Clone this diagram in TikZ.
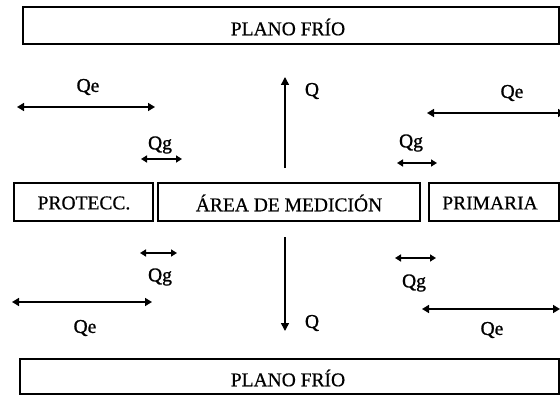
\documentclass[tikz,border=0pt]{standalone}
\usepackage{fontspec}
\setmainfont{Liberation Serif}
\newfontfamily\lblfont[FakeBold=0.6]{Liberation Serif}
\newfontfamily\qfont[FakeBold=1.2]{Liberation Serif}
\usetikzlibrary{arrows.meta}
\begin{document}
\begin{tikzpicture}[x=1pt,y=-1pt,
  box/.style={draw,line width=1.7pt,inner sep=0pt},
  lbl/.style={font=\lblfont\fontsize{19.5}{19.5}\selectfont,inner sep=0pt},
  qlbl/.style={font=\qfont\fontsize{19.5}{19.5}\selectfont,inner sep=0pt},
  harrow/.style={line width=1.6pt,{Triangle[length=7pt,width=8pt]}-{Triangle[length=7pt,width=8pt]}},
  sarrow/.style={line width=1.5pt,{Triangle[length=6pt,width=7pt]}-{Triangle[length=6pt,width=7pt]}},
  varrow/.style={line width=1.5pt,-{Triangle[length=8pt,width=8pt]}}]
\useasboundingbox (0,0) rectangle (560,396);
\fill[white] (0,0) rectangle (560,396);
% boxes
\draw[box] (23,7) rectangle (559,44);
\node[lbl] (top) at (288,27) {PLANO FRÍO};
\draw[box] (20,359) rectangle (559,394);
\node[lbl] (bot) at (288,378) {PLANO FRÍO};
\draw[box] (14,183) rectangle (153,221);
\node[lbl] (prot) at (84,203) {PROTECC.};
\draw[box] (158,183) rectangle (420,221);
\node[lbl] (area) at (289,203) {ÁREA DE MEDICIÓN};
\draw[box] (429,183) rectangle (559,221);
\node[lbl] (prim) at (490,203) {PRIMARIA};
% vertical arrows
\coordinate (u1) at (285,168); \coordinate (u2) at (285,77);
\draw[varrow] (u1) -- (u2);
\node[qlbl] (qu) at (312,91) {Q};
\coordinate (d1) at (285,237); \coordinate (d2) at (285,331);
\draw[varrow] (d1) -- (d2);
\node[qlbl] (qd) at (312,323) {Q};
% top left
\coordinate (a1) at (17,107); \coordinate (a2) at (155,107);
\draw[harrow] (a1) -- (a2);
\node[qlbl] (qetl) at (88,87) {Qe};
\coordinate (b1) at (141,159); \coordinate (b2) at (182,159);
\draw[sarrow] (b1) -- (b2);
\node[qlbl] (qgtl) at (160,145) {Qg};
% top right
\coordinate (c1) at (427,113); \coordinate (c2) at (565,113);
\draw[harrow] (c1) -- (c2);
\node[qlbl] (qetr) at (512,93) {Qe};
\coordinate (e1) at (397,163); \coordinate (e2) at (437,163);
\draw[sarrow] (e1) -- (e2);
\node[qlbl] (qgtr) at (411,143) {Qg};
% bottom left
\coordinate (f1) at (140,253); \coordinate (f2) at (177,253);
\draw[sarrow] (f1) -- (f2);
\node[qlbl] (qgbl) at (160,277) {Qg};
\coordinate (g1) at (12,302); \coordinate (g2) at (152,302);
\draw[harrow] (g1) -- (g2);
\node[qlbl] (qebl) at (85,328) {Qe};
% bottom right
\coordinate (h1) at (395,258); \coordinate (h2) at (436,258);
\draw[sarrow] (h1) -- (h2);
\node[qlbl] (qgbr) at (414,283) {Qg};
\coordinate (k1) at (422,309); \coordinate (k2) at (560,309);
\draw[harrow] (k1) -- (k2);
\node[qlbl] (qebr) at (492,330) {Qe};
\end{tikzpicture}
\end{document}
